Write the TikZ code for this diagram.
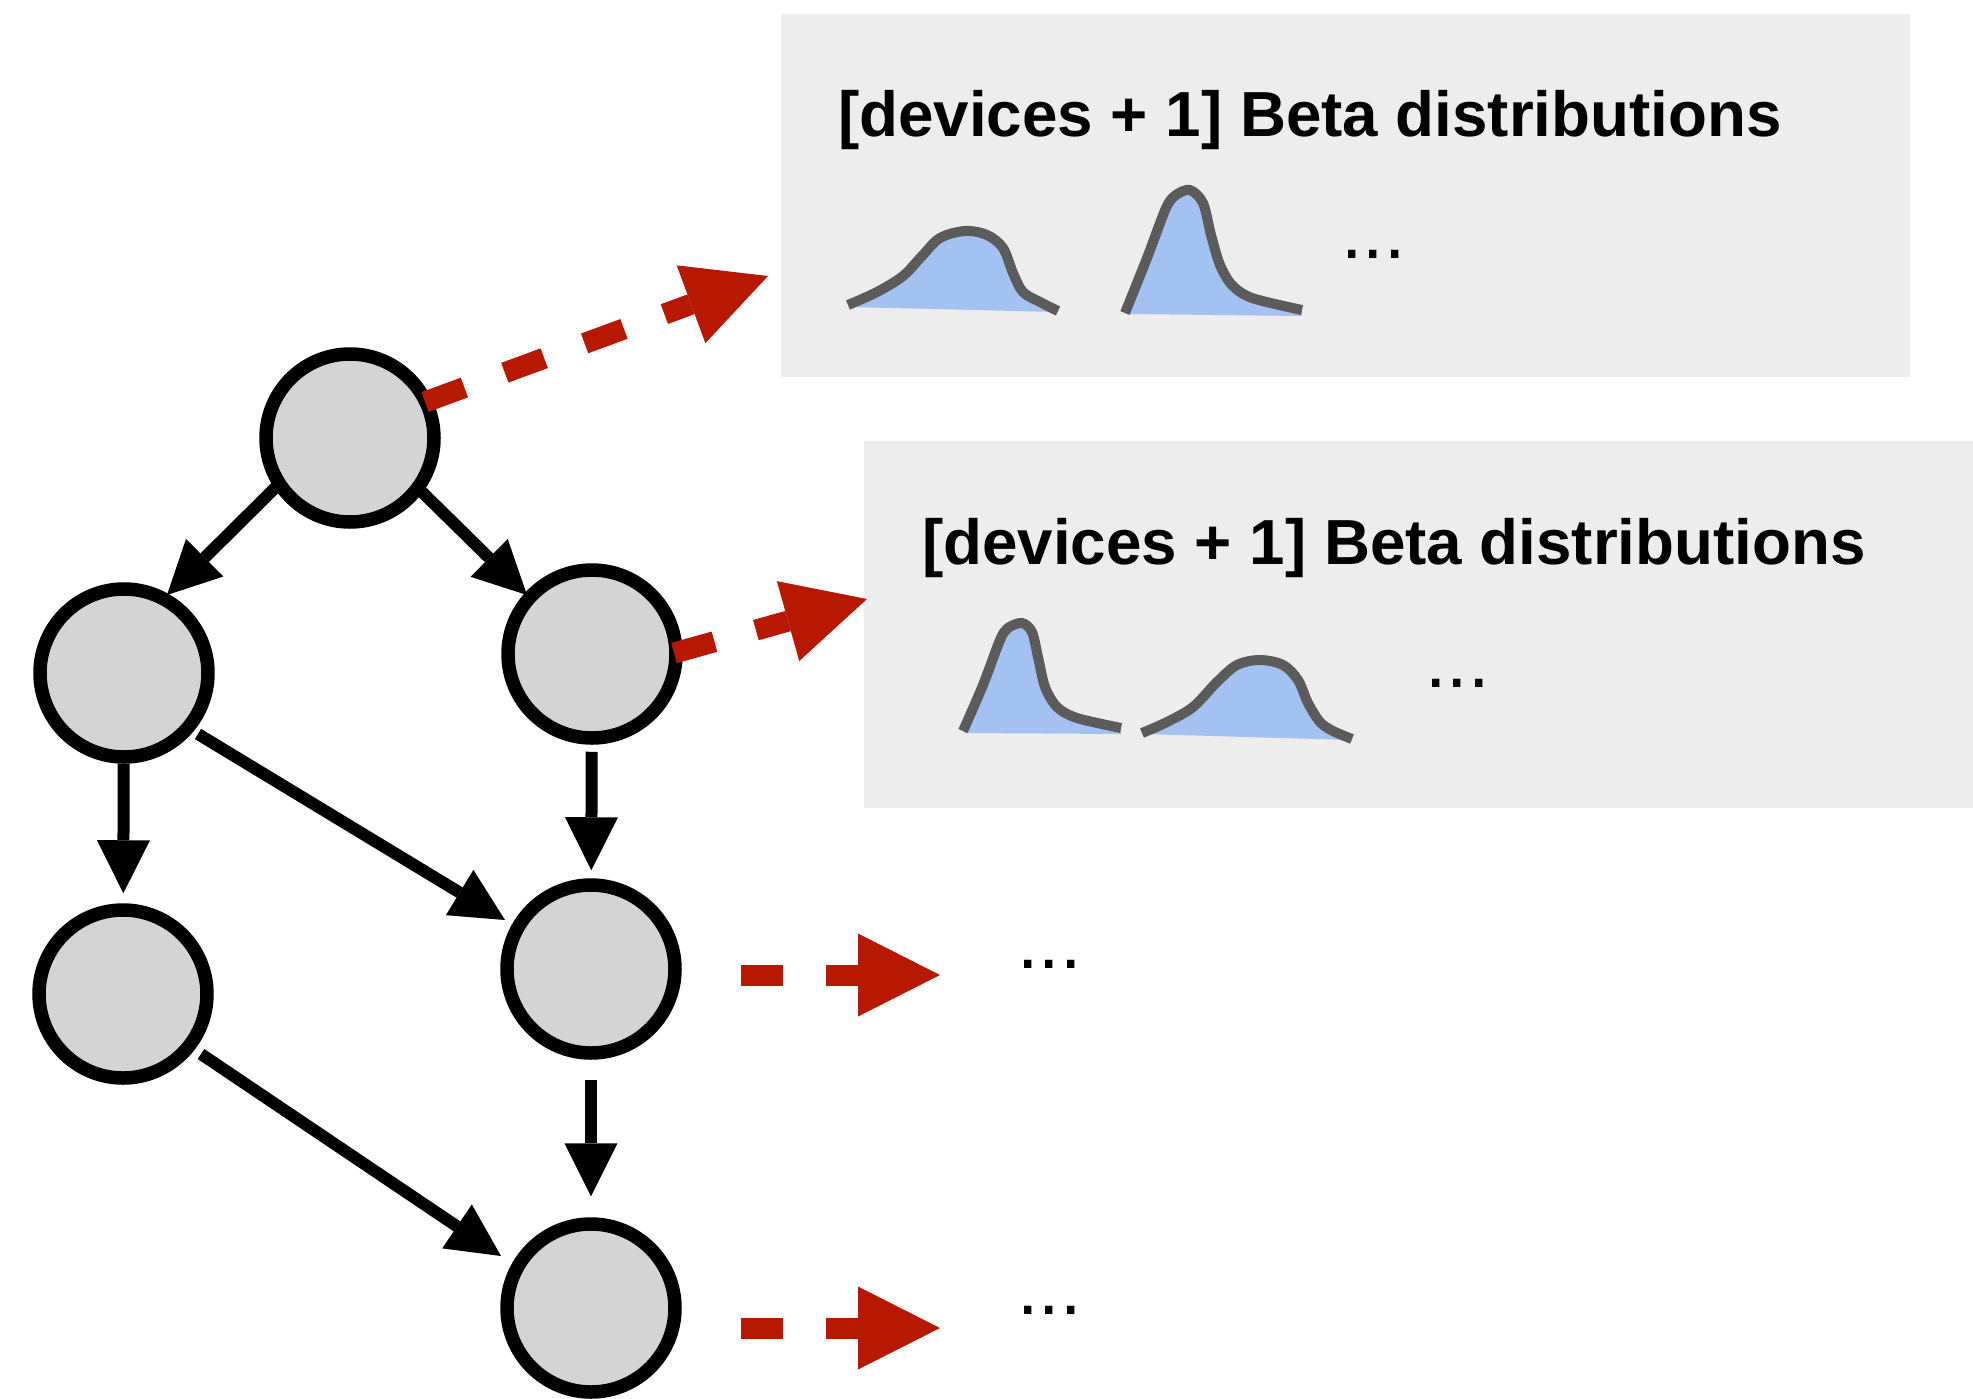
\documentclass[tikz,border=0pt]{standalone}
\usepackage{fontspec}
\setmainfont{Liberation Sans}
\usetikzlibrary{arrows.meta,calc}
\definecolor{nodegray}{RGB}{212,212,212}
\definecolor{panelgray}{RGB}{237,237,237}
\definecolor{flowred}{RGB}{182,25,0}
\definecolor{curveblue}{RGB}{163,194,242}
\definecolor{curvegray}{RGB}{91,91,91}
\begin{document}
\begin{tikzpicture}[x=1pt,y=-1pt,
  state/.style={circle,draw=black,fill=nodegray,line width=13.5pt,minimum size=168pt,inner sep=0pt},
  panel/.style={fill=panelgray,draw=none,anchor=north west,inner sep=0pt},
  edge/.style={line width=12pt,-{Triangle[length=53pt,width=53pt,line width=0pt]}},
  flow/.style={color=flowred,line width=21pt,dash pattern=on 42pt off 43pt,
               -{Triangle[length=82pt,width=83pt,line width=0pt]}},
  heading/.style={anchor=base west,inner sep=0pt,font=\bfseries\fontsize{63.7}{70}\selectfont},
  more/.style={anchor=base west,inner sep=0pt,font=\fontsize{77}{80}\selectfont},
  density/.style={fill=curveblue},
  outline/.style={draw=curvegray,line width=10pt}
]
\useasboundingbox (0,0) rectangle (1973,1398);

% grey panels holding the distributions
\node[panel,minimum width=1129pt,minimum height=363pt] (P1) at (781,14) {};
\node[panel,minimum width=1109pt,minimum height=367pt] (P2) at (864,441) {};

\node[heading] (T1) at (838,136) {[devices + 1] Beta distributions};
\node[heading] (T2) at (922,564) {[devices + 1] Beta distributions};

% density sketches, upper panel
\fill[density] plot[smooth,tension=0.55] coordinates {(848,305) (877,292) (903,276) (922,256) (940,238) (965,231) (987,235) (1003,248) (1013,273) (1023,292) (1040,302) (1058,311)} -- (1057,312) -- (850,307) -- cycle;
\draw[outline] plot[smooth,tension=0.55] coordinates {(848,305) (877,292) (903,276) (922,256) (940,238) (965,231) (987,235) (1003,248) (1013,273) (1023,292) (1040,302) (1058,311)};
\fill[density] plot[smooth,tension=0.5] coordinates {(1125,313) (1147,258) (1166,208) (1176,195) (1190,190) (1203,203) (1211,235) (1220,265) (1232,285) (1252,298) (1302,310)} -- (1302,316) -- (1127,314) -- cycle;
\draw[outline] plot[smooth,tension=0.5] coordinates {(1125,313) (1147,258) (1166,208) (1176,195) (1190,190) (1203,203) (1211,235) (1220,265) (1232,285) (1252,298) (1302,310)};
\node[more] (M1) at (1341,258) {...};

% density sketches, lower panel
\fill[density] plot[smooth,tension=0.5] coordinates {(963,731) (983,685) (1000,640) (1008,628) (1022,623) (1032,632) (1038,657) (1045,687) (1057,707) (1077,718) (1121,728)} -- (1121,734) -- (965,733) -- cycle;
\draw[outline] plot[smooth,tension=0.5] coordinates {(963,731) (983,685) (1000,640) (1008,628) (1022,623) (1032,632) (1038,657) (1045,687) (1057,707) (1077,718) (1121,728)};
\fill[density] plot[smooth,tension=0.55] coordinates {(1142,733) (1167,722) (1193,707) (1217,682) (1237,665) (1260,660) (1283,665) (1298,680) (1308,703) (1320,722) (1333,731) (1352,739)} -- (1350,740) -- (1144,734) -- cycle;
\draw[outline] plot[smooth,tension=0.55] coordinates {(1142,733) (1167,722) (1193,707) (1217,682) (1237,665) (1260,660) (1283,665) (1298,680) (1308,703) (1320,722) (1333,731) (1352,739)};
\node[more] (M2) at (1425,687) {...};

% tree of nodes
\node[state] (A) at (350,438) {};
\node[state] (B) at (124,673) {};
\node[state] (C) at (592,654) {};
\node[state] (D) at (123,994) {};
\node[state] (E) at (591,969) {};
\node[state] (F) at (591,1308) {};

\draw[edge] ($(A)+(-71,46)$) -- ($(B)+(43,-78)$);
\draw[edge] ($(A)+(71,53)$) -- ($(C)+(-65,-59)$);
\draw[edge,shorten >=10pt] (B) -- (D);
\draw[edge] ($(B)+(74,61)$) -- ($(E)+(-86,-49)$);
\draw[edge,shorten <=7pt,shorten >=8pt] (C) -- (E);
\draw[edge,shorten <=20pt,shorten >=21pt] (E) -- (F);
\draw[edge] ($(D)+(78,60)$) -- ($(F)+(-90,-52)$);

% flows out to the distributions
\coordinate (P1tip) at (768,276);
\coordinate (P2tip) at (867,599);
\coordinate (Etip) at (940,975);
\coordinate (Ftip) at (940,1328);
\draw[flow] ($(A)+(75,-36)$) -- (P1tip);
\draw[flow] ($(C)+(82,-1)$) -- (P2tip);
\draw[flow] ($(E)+(150,6)$) -- (Etip);
\draw[flow] ($(F)+(150,20)$) -- (Ftip);

\node[more] (M3) at (1017,968) {...};
\node[more] (M4) at (1017,1314) {...};
\end{tikzpicture}
\end{document}
